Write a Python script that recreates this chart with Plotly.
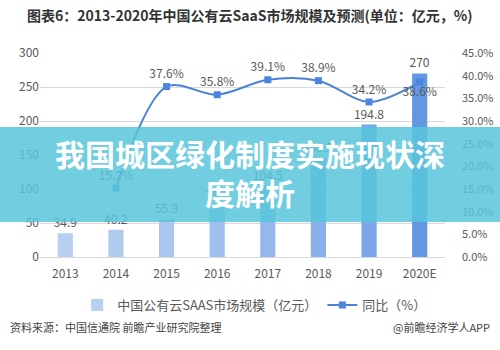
import plotly.graph_objects as go

years = ["2013", "2014", "2015", "2016", "2017", "2018", "2019", "2020E"]
market = [34.9, 40.2, 55.3, 75.1, 104.5, 145.2, 194.8, 270]
growth_years = ["2014", "2015", "2016", "2017", "2018", "2019", "2020E"]
growth = [15.2, 37.6, 35.8, 39.1, 38.9, 34.2, 38.6]
bar_colors = ["#b7cff1", "#b2ccf0", "#a9c6ef", "#9fbfee", "#94b8ec", "#89b0ea", "#7ca7e8", "#6497e2"]
left_ticks = [0, 50, 100, 150, 200, 250, 300]
right_ticks = [0, 5, 10, 15, 20, 25, 30, 35, 40, 45]

FONT = "Noto Sans CJK SC"
GREY = "#595959"

fig = go.Figure()
fig.add_trace(go.Bar(
    x=years, y=market, name="中国公有云SAAS市场规模（亿元）",
    marker=dict(color=bar_colors, line=dict(width=0)),
    text=[f"{v:g}" for v in market], textposition="outside", constraintext="none",
    textfont=dict(size=12, color=GREY, family=FONT), cliponaxis=False,
))
fig.add_trace(go.Scatter(
    x=growth_years, y=growth, name="同比（%）", yaxis="y2",
    mode="lines+markers+text",
    line=dict(color="#4a82d6", width=2, shape="spline", smoothing=0.9),
    marker=dict(symbol="square", size=7, color="#4a86e0"),
    text=[f"{v:.1f}%" for v in growth],
    textposition=["top center"] * 6 + ["bottom center"],
    textfont=dict(size=12, color=GREY, family=FONT), cliponaxis=False,
))

fig.update_layout(
    width=500, height=350,
    margin=dict(l=40, r=55, t=53, b=93),
    paper_bgcolor="white", plot_bgcolor="white",
    font=dict(family=FONT, color=GREY, size=12),
    bargap=0.70,
    showlegend=True,
    legend=dict(orientation="h", x=0.53, xanchor="center", y=-0.235, yanchor="middle",
                font=dict(size=13, color=GREY, family=FONT), itemwidth=30,
                bgcolor="rgba(0,0,0,0)"),
    xaxis=dict(type="category", showgrid=False, showline=True, linecolor="#d9d9d9",
               ticks="", ticklabelstandoff=6, tickfont=dict(size=12, color=GREY), fixedrange=True),
    yaxis=dict(range=[0, 300], tickvals=left_ticks, showgrid=True, gridcolor="#d9d9d9",
               zeroline=False, showline=False, tickfont=dict(size=12, color=GREY)),
    yaxis2=dict(range=[0, 45], tickvals=right_ticks, ticktext=[f"{v:.1f}%" for v in right_ticks],
                overlaying="y", side="right", showgrid=False, zeroline=False, automargin=False,
                ticklabelstandoff=16, tickfont=dict(size=11, color=GREY)),
)

# Title
fig.add_annotation(text="<b>图表6：2013-2020年中国公有云SaaS市场规模及预测(单位：亿元，%)</b>",
                   xref="paper", yref="paper", x=0.5185, y=1.186, xanchor="center", yanchor="middle",
                   showarrow=False, font=dict(size=14, color="#333333", family=FONT))
# Footer
fig.add_annotation(text="资料来源：中国信通院 前瞻产业研究院整理",
                   xref="paper", yref="paper", x=-0.079, y=-0.343, xanchor="left", yanchor="middle",
                   showarrow=False, font=dict(size=11, color="#444444", family=FONT))
fig.add_annotation(text="@前瞻经济学人APP",
                   xref="paper", yref="paper", x=1.116, y=-0.343, xanchor="right", yanchor="middle",
                   showarrow=False, font=dict(size=11, color="#444444", family=FONT))

# Banner overlay
fig.add_shape(type="rect", xref="paper", yref="paper", x0=-0.2, x1=1.3, y0=0.1716, y1=0.637,
              fillcolor="rgba(88,198,218,0.85)", line=dict(width=0), layer="above")
fig.add_annotation(text="<b>我国城区绿化制度实施现状深<br>度解析</b>",
                   xref="paper", yref="paper", x=0.5185, y=0.412, xanchor="center", yanchor="middle",
                   showarrow=False, align="center",
                   font=dict(size=30, color="white", family=FONT))

fig.write_html("out.html")
